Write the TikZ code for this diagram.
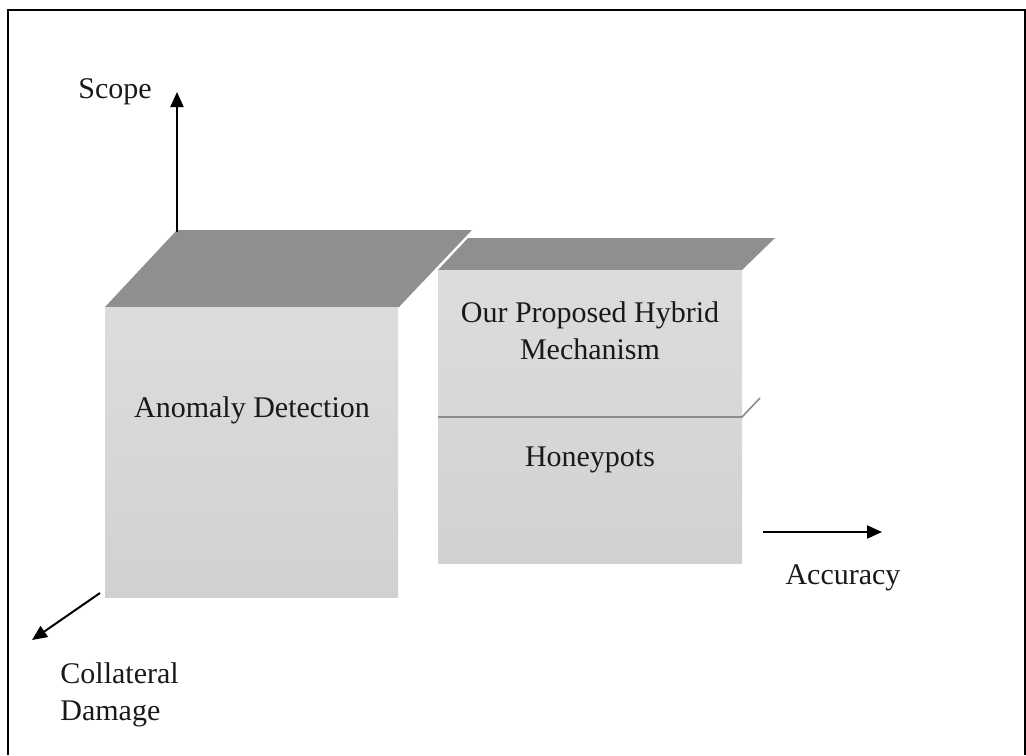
\documentclass[tikz,border=0pt]{standalone}
\usepackage{fontspec}
\setmainfont{Liberation Serif}
\usetikzlibrary{arrows.meta}
\begin{document}
\begin{tikzpicture}[x=0.5pt,y=-0.5pt,
  axis/.style={line width=1pt, -{Triangle[length=7.5pt,width=6.5pt]}},
  topface/.style={fill=gray!88},
  frontface/.style={top color=gray!27, bottom color=gray!36},
  lbl/.style={font=\fontsize{15}{18.5}\selectfont, inner sep=0pt, align=center, text=black!90}]
\useasboundingbox (0,0) rectangle (1026,755);
% outer frame
\draw[line width=0.8pt] (8,755) -- (8,10) -- (1025,10) -- (1025,755);

% right block: honeypots with the hybrid mechanism on top
\fill[topface] (438,270) -- (468,238) -- (775,238) -- (742,270) -- cycle;
\fill[frontface] (438,270) rectangle (742,563);
\draw[gray!90, line width=0.8pt] (438,417) -- (742,417) -- (760,398);

% left block: anomaly detection
\fill[topface] (105,307) -- (177,230) -- (473,230) -- (400,307) -- cycle;
\fill[frontface] (105,307) rectangle (398,597);
\draw[white, line width=0.6pt] (400,307) -- (473,230);

% labels
\node[lbl] (anom) at (252,410) {Anomaly Detection};
\node[lbl] (hyb) at (590,331) {Our Proposed Hybrid\\Mechanism};
\node[lbl] (honey) at (590,460) {Honeypots};
\node[lbl] (scope) at (115,92) {Scope};
\node[lbl] (acc) at (843,578) {Accuracy};
\node[lbl, align=left, anchor=west] (coll) at (60,695) {Collateral\\Damage};

% axes
\coordinate (scopeA) at (177,232);
\coordinate (scopeB) at (177,92);
\draw[axis] (scopeA) -- (scopeB);
\coordinate (collA) at (100,593);
\coordinate (collB) at (32,640);
\draw[axis] (collA) -- (collB);
\coordinate (accA) at (763,532);
\coordinate (accB) at (882,532);
\draw[axis] (accA) -- (accB);
\end{tikzpicture}
\end{document}
